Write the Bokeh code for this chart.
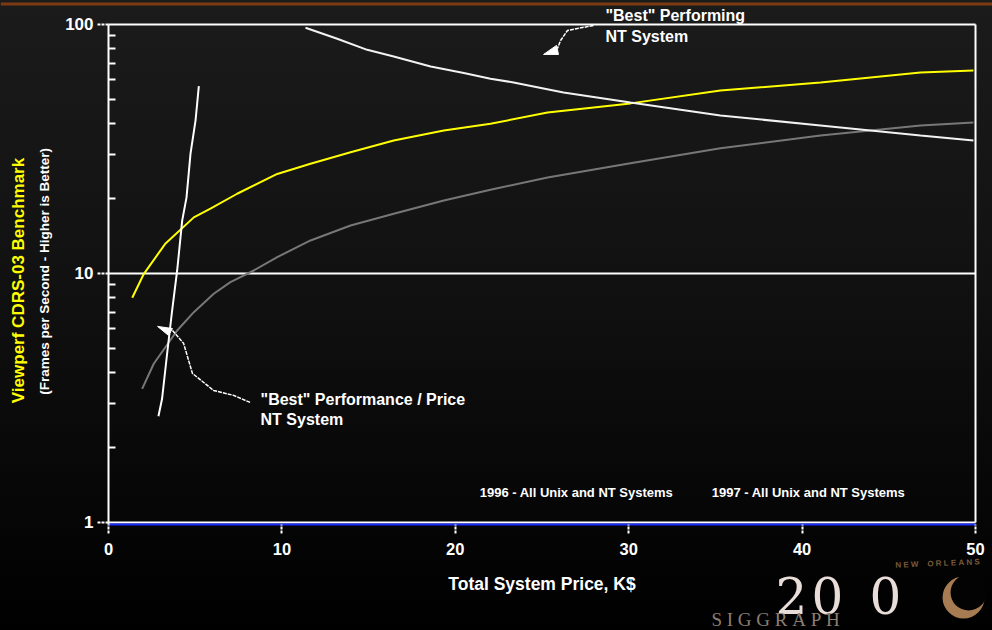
import math
from bokeh.plotting import figure
from bokeh.models import Range1d, FixedTicker, NumeralTickFormatter, Label, Span
from bokeh.embed import file_html
from bokeh.resources import INLINE

# ---------------- data ----------------
x_ticks = [0, 10, 20, 30, 40, 50]
y_ticks = [1, 10, 100]
y_minor = [2, 3, 4, 5, 6, 7, 8, 9, 20, 30, 40, 50, 60, 70, 80, 90]

# 1996 - all Unix and NT systems (yellow)
yellow_x = [1.37, 2.04, 3.29, 4.92, 5.88, 7.42, 9.73, 11.65, 13.96, 16.45, 19.34, 22.03,
            25.32, 30.10, 35.29, 41.06, 46.83, 49.88]
yellow_y = [7.99, 9.97, 13.2, 16.8, 18.2, 20.9, 25.1, 27.6, 30.7, 34.2, 37.5, 39.9,
            44.3, 48.2, 54.3, 58.5, 64.2, 65.4]

# 1997 - all Unix and NT systems (gray)
gray_x = [1.94, 2.61, 3.96, 4.92, 6.07, 7.03, 8.38, 9.73, 11.65, 13.96, 16.45, 19.34, 22.03,
          25.32, 30.10, 35.29, 41.06, 46.83, 49.88]
gray_y = [3.44, 4.34, 5.90, 6.99, 8.29, 9.23, 10.28, 11.63, 13.57, 15.58, 17.37, 19.65, 21.68,
          24.3, 27.7, 31.8, 35.8, 39.3, 40.4]

# "Best" performing NT system (white, falling)
best_x = [11.36, 13.19, 14.92, 16.45, 18.58, 20.49, 22.03, 23.36, 26.24, 30.10, 35.29, 41.06, 46.83, 49.88]
best_y = [97.0, 87.6, 79.1, 74.4, 67.8, 63.8, 60.5, 58.5, 53.3, 48.6, 43.1, 39.3, 35.8, 34.2]

# "Best" performance / price NT system (white, steep)
steep_x = [2.88, 3.09, 3.38, 3.67, 3.96, 4.25, 4.50, 4.73, 5.02, 5.21]
steep_y = [2.67, 3.14, 4.76, 7.10, 10.28, 16.3, 20.2, 30.3, 41.2, 56.5]

# annotation pointers
top_ptr_x = [27.97, 26.47, 26.07, 25.89]
top_ptr_y = [99.1, 94.6, 86.2, 80.1]
top_head_x = [25.09, 25.95, 25.84]
top_head_y = [75.8, 75.8, 82.4]
low_ptr_x = [3.69, 4.33, 4.84, 6.06, 7.21, 8.19]
low_ptr_y = [5.90, 5.24, 3.97, 3.39, 3.24, 3.03]
low_head_x = [2.83, 3.69, 3.46]
low_head_y = [6.13, 6.01, 5.64]

FONT = "Liberation Sans"
X_AXIS_AT = 0.9817   # blue axis line just below y = 1
TOP_RULE = 120.9     # brown rule along the top of the slide
MOON = (49.31, 0.4998)
MOON_SHADE = (49.60, 0.5234)
NB = "\u00a0"

p = figure(width=992, height=630, y_axis_type="log",
           x_range=Range1d(-6.228, 50.98), y_range=Range1d(0.3683, 124.8),
           output_backend="svg", toolbar_location=None,
           min_border_left=0, min_border_right=0,
           min_border_top=0, min_border_bottom=0)

p.border_fill_color = None
p.background_fill_color = None
p.outline_line_color = None
p.grid.visible = False
p.styles = {"background": "linear-gradient(to bottom, #1b1b1b 0%, #111111 45%, #000000 100%)"}

# frame lines: horizontal at 1, 10, 100 and right border at 50
p.segment(x0=[x_ticks[0]] * len(y_ticks), x1=[x_ticks[-1]] * len(y_ticks),
          y0=y_ticks, y1=y_ticks, line_color="white", line_width=2)
p.segment(x0=[x_ticks[-1]], x1=[x_ticks[-1]], y0=[y_ticks[0]], y1=[y_ticks[-1]],
          line_color="white", line_width=2)

p.add_layout(Span(location=TOP_RULE, dimension="width", line_color="#7d3a12", line_width=3))

# y axis
ya = p.yaxis[0]
ya.fixed_location = 0
ya.bounds = (X_AXIS_AT, 100)
ya.ticker = FixedTicker(ticks=y_ticks, minor_ticks=y_minor)
ya.formatter = NumeralTickFormatter(format="0")
ya.axis_line_color = "white"
ya.axis_line_width = 2
ya.major_tick_line_color = "white"
ya.major_tick_line_width = 2
ya.major_tick_line_dash = "3 1"
ya.major_tick_out = 11
ya.major_tick_in = 0
ya.minor_tick_line_color = "white"
ya.minor_tick_line_width = 2
ya.minor_tick_in = 7
ya.minor_tick_out = 0
ya.major_label_standoff = 4
ya.major_label_text_color = "white"
ya.major_label_text_font = FONT
ya.major_label_text_font_style = "bold"
ya.major_label_text_font_size = "17px"

# x axis
xa = p.xaxis[0]
xa.fixed_location = X_AXIS_AT
xa.bounds = (0, 50)
xa.ticker = FixedTicker(ticks=x_ticks)
xa.minor_tick_line_color = None
xa.axis_line_color = "#1a2cff"
xa.axis_line_width = 2
xa.major_tick_line_color = "white"
xa.major_tick_line_width = 2
xa.major_tick_line_dash = "3 1"
xa.major_tick_out = 9
xa.major_tick_in = 0
xa.major_label_standoff = 10
xa.major_label_text_color = "white"
xa.major_label_text_font = FONT
xa.major_label_text_font_style = "bold"
xa.major_label_text_font_size = "16.5px"
xa.axis_label = "Total System Price, K$"
xa.axis_label_text_color = "white"
xa.axis_label_text_font = FONT
xa.axis_label_text_font_style = "bold"
xa.axis_label_text_font_size = "17.5px"
xa.axis_label_standoff = 15

# series
p.line(gray_x, gray_y, line_color="#777777", line_width=2)
p.line(yellow_x, yellow_y, line_color="#ffff00", line_width=2)
p.line(best_x, best_y, line_color="#f2f2f2", line_width=2)
p.line(steep_x, steep_y, line_color="white", line_width=2)

# pointers
p.line(top_ptr_x, top_ptr_y, line_color="white", line_width=1.5, line_dash="4 1")
p.patch(top_head_x, top_head_y, color="white")
p.line(low_ptr_x, low_ptr_y, line_color="white", line_width=1.5, line_dash="4 1")
p.patch(low_head_x, low_head_y, color="white")

def lab(x, y, text, color="white", size="16px", align="left", font=FONT, style="bold",
        angle=0.0, baseline="middle"):
    p.add_layout(Label(x=x, y=y, text=text, text_color=color, text_font=font,
                       text_font_size=size, text_font_style=style, text_align=align,
                       text_baseline=baseline, angle=angle))

# y axis titles
lab(-5.19, 9.37, "Viewperf CDRS-03 Benchmark", color="#ffff00", size="17px", align="center", angle=math.pi / 2)
lab(-3.69, 10.2, "(Frames per Second - Higher is Better)", size="13.5px", align="center", angle=math.pi / 2)

# annotations
lab(28.66, 108.2, "\"Best\" Performing")
lab(28.66, 89.5, "NT System")
lab(8.77, 3.12, "\"Best\" Performance / Price")
lab(8.77, 2.59, "NT System")

# legend texts
lab(26.99, 1.32, "1996 - All Unix and NT Systems", size="13px", align="center")
lab(40.37, 1.32, "1997 - All Unix and NT Systems", size="13px", align="center")

# SIGGRAPH 2000 logo
lab(39.39, 0.509, "2", color="#e8ddd8", size="50px", align="center", font="DejaVu Serif", style="normal")
lab(41.46, 0.509, "0", color="#e8ddd8", size="50px", align="center", font="DejaVu Serif", style="normal")
lab(44.81, 0.509, "0", color="#e8ddd8", size="50px", align="center", font="DejaVu Serif", style="normal")
p.scatter([MOON[0]], [MOON[1]], marker="circle", size=42, fill_color="#a87c52", line_color=None)
p.scatter([MOON_SHADE[0]], [MOON_SHADE[1]], marker="circle", size=36, fill_color="#030303", line_color=None)
lab(47.81, 0.684, NB.join("NEW") + NB * 4 + NB.join("ORLEANS"), color="#7a5a3a", size="8px",
    align="center", angle=0.04)
lab(38.47, 0.4077, NB.join("SIGGRAPH"), color="#8a7d72", size="19px", align="center",
    font="Liberation Serif", style="normal")

open("out.html", "w").write(file_html(p, INLINE))
